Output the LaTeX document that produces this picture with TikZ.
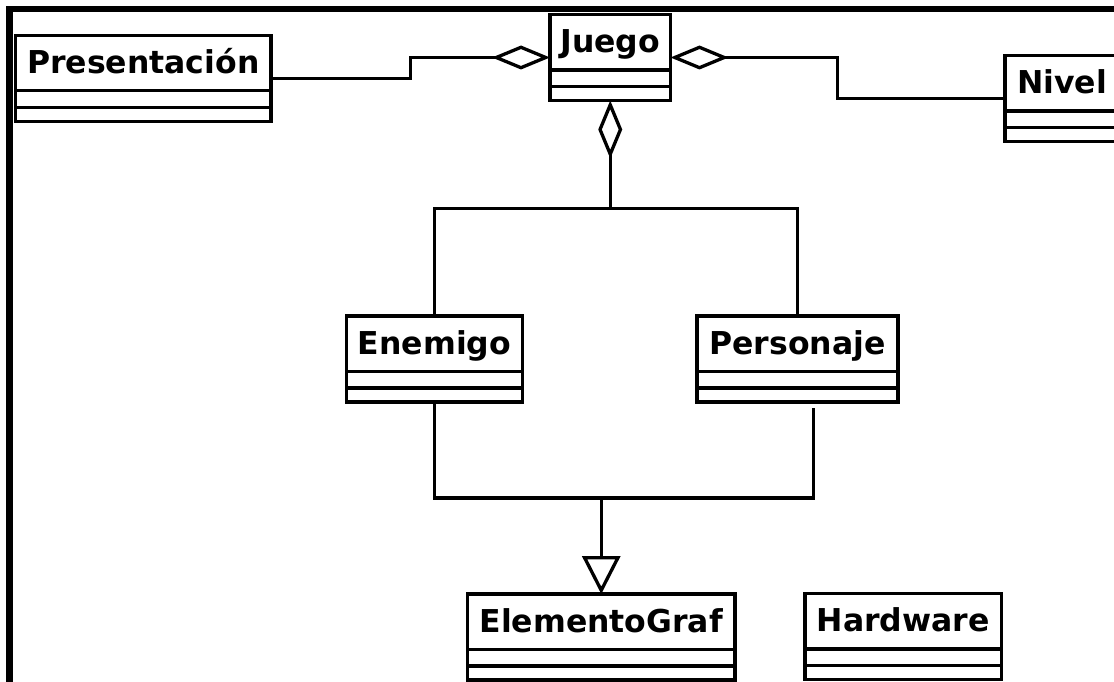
\documentclass[tikz,border=0pt]{standalone}
\usepackage{fontspec}
\setmainfont{DejaVu Sans}
\usetikzlibrary{arrows.meta,calc}

\tikzset{
    umlclass/.style={draw, line width=3.3pt, inner sep=0pt, outer sep=0pt,
        text height=38pt, text depth=48pt,
        font=\bfseries\fontsize{31.5}{36}\selectfont},
    link/.style={line width=3.3pt},
    aggr/.style={link, -{Diamond[open,length=58pt,width=24pt]}},
    gener/.style={link, -{Triangle[open,length=38pt,width=38pt]}},
}

\begin{document}
\begin{tikzpicture}[x=1pt, y=-1pt]
            \clip (0,0) rectangle (1114,682);
            % clases
            \node[umlclass, minimum width=255.5pt] (pres) at (143.25,78.25) {Presentación};
            \node[umlclass, minimum width=120.5pt] (juego) at (610.25,57.5) {Juego};
            \node[umlclass, minimum width=114pt] (nivel) at (1062,98.5) {Nivel};
            \node[umlclass, minimum width=176pt] (enemigo) at (434.5,359) {Enemigo};
            \node[umlclass, minimum width=201pt] (personaje) at (797.5,359) {Personaje};
            \node[umlclass, minimum width=267.5pt] (elemento) at (601.25,637) {ElementoGraf};
            \node[umlclass, minimum width=196.5pt] (hardware) at (903.25,636.5) {Hardware};
            % compartimentos
            \foreach \c in {pres,juego,nivel,enemigo,personaje,elemento,hardware}{
                \draw[link] ([yshift=-55.5pt]\c.north west) -- ([yshift=-55.5pt]\c.north east);
                \draw[link] ([yshift=-72pt]\c.north west) -- ([yshift=-72pt]\c.north east);
            }
            % puntos de quiebre
            \coordinate (pmid) at ($(pres.east)!.5!(juego.west)$);
            \coordinate (nmid) at ($(juego.east)!.5!(nivel.west)$);
            \coordinate (jmid) at ($(juego.south)!.5!(juego.south |- enemigo.north)$);
            \coordinate (gmid) at ($(elemento.north)!.5!(elemento.north |- enemigo.south)$);
            % relaciones
            \draw[aggr] (pres.east) -| (pmid) |- (juego.west);
            \draw[aggr] (nivel.west) -| (nmid) |- (juego.east);
            \draw[aggr] (jmid) -- (juego.south);
            \draw[link] (enemigo.north) |- (jmid) -| (personaje.north);
            \draw[gener] (gmid) -- (elemento.north);
            \draw[link] (enemigo.south) |- (gmid) -| ([xshift=16pt,yshift=-5.5pt]personaje.south);
            % marco
            \draw[line width=6.5pt] (9.5,682) -- (9.5,9) -- (1114,9);
\end{tikzpicture}
\end{document}
